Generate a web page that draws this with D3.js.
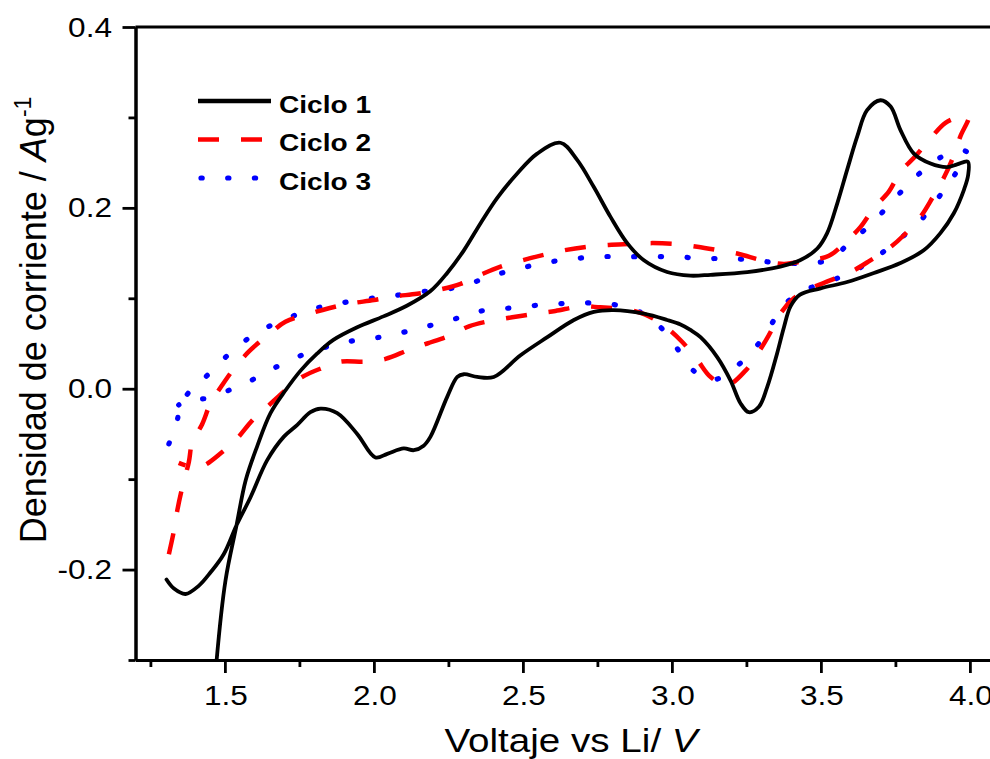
<!DOCTYPE html>
<html>
<head>
<meta charset="utf-8">
<script src="https://cdn.jsdelivr.net/npm/d3@7"></script>
<style>
  body { margin: 0; background: #fff; }
  text { font-family: "Liberation Sans", Arial, sans-serif; fill: #000; }
</style>
</head>
<body>
<div class="chart"></div>
<script>
// cyclic voltammetry, 3 cycles
var ciclo1V = [1.466, 1.472, 1.502, 1.539, 1.570, 1.608, 1.653, 1.703, 1.754, 1.810, 1.864, 1.944, 2.032, 2.112, 2.190,
  2.246, 2.302, 2.358, 2.414, 2.481, 2.548, 2.626, 2.682, 2.738, 2.794, 2.850, 2.906, 2.984, 3.062, 3.130,
  3.253, 3.364, 3.430, 3.488, 3.521, 3.555, 3.588, 3.622, 3.655, 3.700, 3.734, 3.767, 3.812, 3.868, 3.924,
  3.957, 3.993, 3.994, 3.980, 3.946, 3.901, 3.845, 3.767, 3.678, 3.588, 3.499, 3.430, 3.398, 3.376, 3.353,
  3.320, 3.292, 3.258, 3.230, 3.197, 3.152, 3.096, 3.062, 3.029, 2.984, 2.906, 2.805, 2.738, 2.671, 2.582,
  2.492, 2.402, 2.347, 2.302, 2.280, 2.246, 2.190, 2.167, 2.134, 2.100, 2.045, 2.005, 1.944, 1.877, 1.821,
  1.787, 1.743, 1.698, 1.642, 1.586, 1.539, 1.496, 1.452, 1.412, 1.368, 1.329, 1.304];
var ciclo1I = [-0.330, -0.301, -0.212, -0.151, -0.101, -0.064, -0.027, -0.002, 0.020, 0.039, 0.054, 0.068, 0.080, 0.092, 0.108,
  0.128, 0.153, 0.183, 0.211, 0.238, 0.260, 0.272, 0.253, 0.223, 0.190, 0.161, 0.142, 0.129, 0.125, 0.126,
  0.129, 0.135, 0.142, 0.155, 0.172, 0.205, 0.242, 0.279, 0.308, 0.319, 0.312, 0.286, 0.260, 0.249, 0.245,
  0.248, 0.251, 0.236, 0.220, 0.194, 0.172, 0.153, 0.139, 0.128, 0.118, 0.111, 0.104, 0.091, 0.068, 0.039,
  0.002, -0.020, -0.026, -0.016, 0.009, 0.035, 0.057, 0.065, 0.071, 0.076, 0.083, 0.087, 0.085, 0.076, 0.057,
  0.037, 0.013, 0.013, 0.016, 0.013, -0.009, -0.053, -0.063, -0.068, -0.066, -0.072, -0.076, -0.050, -0.027, -0.022,
  -0.026, -0.040, -0.053, -0.079, -0.120, -0.151, -0.183, -0.203, -0.218, -0.227, -0.221, -0.211];

var ciclo2V = [1.312, 1.329, 1.340, 1.357, 1.379, 1.390, 1.424, 1.452, 1.491, 1.530, 1.580, 1.636, 1.703, 1.765, 1.849,
  1.916, 2.000, 2.067, 2.145, 2.212, 2.291, 2.358, 2.425, 2.498, 2.570, 2.637, 2.716, 2.788, 2.861, 2.934,
  3.012, 3.085, 3.158, 3.225, 3.303, 3.376, 3.454, 3.527, 3.588, 3.633, 3.678, 3.728, 3.767, 3.817, 3.868,
  3.918, 3.960, 3.995, 3.968, 3.940, 3.912, 3.874, 3.834, 3.779, 3.735, 3.666, 3.611, 3.533, 3.465, 3.409,
  3.364, 3.325, 3.292, 3.247, 3.185, 3.130, 3.085, 3.034, 2.984, 2.911, 2.839, 2.760, 2.693, 2.609, 2.542,
  2.464, 2.391, 2.319, 2.257, 2.179, 2.117, 2.039, 1.972, 1.888, 1.827, 1.759, 1.709, 1.642, 1.592, 1.541,
  1.491, 1.412, 1.345];
var ciclo2I = [-0.183, -0.157, -0.135, -0.109, -0.081, -0.060, -0.039, -0.016, 0.004, 0.022, 0.041, 0.057, 0.074, 0.081, 0.089,
  0.094, 0.098, 0.102, 0.105, 0.109, 0.116, 0.126, 0.135, 0.142, 0.148, 0.153, 0.157, 0.159, 0.160, 0.161,
  0.160, 0.157, 0.153, 0.149, 0.142, 0.138, 0.142, 0.147, 0.164, 0.179, 0.200, 0.218, 0.240, 0.257, 0.277,
  0.294, 0.300, 0.301, 0.279, 0.253, 0.233, 0.211, 0.190, 0.170, 0.157, 0.142, 0.131, 0.120, 0.111, 0.100,
  0.083, 0.059, 0.041, 0.020, 0.004, 0.013, 0.032, 0.052, 0.067, 0.082, 0.088, 0.090, 0.091, 0.086, 0.083,
  0.079, 0.075, 0.069, 0.059, 0.050, 0.043, 0.033, 0.030, 0.030, 0.023, 0.013, 0.000, -0.020, -0.035, -0.055,
  -0.070, -0.087, -0.082];

var ciclo3V = [1.312, 1.340, 1.350, 1.390, 1.432, 1.496, 1.563, 1.636, 1.711, 1.793, 1.879, 1.966, 2.053, 2.143, 2.229,
  2.319, 2.397, 2.479, 2.568, 2.655, 2.745, 2.834, 2.924, 3.011, 3.103, 3.191, 3.277, 3.364, 3.454, 3.532,
  3.594, 3.661, 3.723, 3.781, 3.845, 3.921, 3.989, 3.946, 3.896, 3.840, 3.781, 3.700, 3.616, 3.538, 3.454,
  3.387, 3.331, 3.284, 3.225, 3.141, 3.076, 3.021, 2.965, 2.886, 2.805, 2.716, 2.626, 2.539, 2.449, 2.361,
  2.280, 2.190, 2.106, 2.020, 1.930, 1.849, 1.765, 1.678, 1.599, 1.519, 1.432, 1.385, 1.345];
var ciclo3I = [-0.061, -0.035, -0.018, 0.000, 0.012, 0.033, 0.052, 0.067, 0.078, 0.088, 0.094, 0.099, 0.102, 0.107, 0.109,
  0.116, 0.125, 0.132, 0.139, 0.143, 0.146, 0.146, 0.146, 0.146, 0.144, 0.144, 0.142, 0.139, 0.139, 0.143,
  0.161, 0.180, 0.201, 0.222, 0.242, 0.259, 0.262, 0.235, 0.212, 0.188, 0.170, 0.149, 0.131, 0.120, 0.110,
  0.096, 0.070, 0.047, 0.027, 0.010, 0.019, 0.043, 0.067, 0.086, 0.093, 0.095, 0.094, 0.092, 0.089, 0.086,
  0.078, 0.070, 0.063, 0.057, 0.053, 0.047, 0.038, 0.025, 0.011, -0.001, -0.011, -0.010, -0.018];

var xTicks = [1.5, 2.0, 2.5, 3.0, 3.5, 4.0];
var xMinor = [1.25, 1.75, 2.25, 2.75, 3.25, 3.75];
var yTicks = [-0.2, 0.0, 0.2, 0.4];
var yMinor = [-0.3, -0.1, 0.1, 0.3];
var seriesNames = ["Ciclo 1", "Ciclo 2", "Ciclo 3"];

var W = 990, H = 759;
var stretch = 1.17;

var x = d3.scaleLinear().domain([1.2, 4.1]).range([135.5, 999.7]);
var y = d3.scaleLinear().domain([-0.3, 0.4]).range([660, 27]);

// plain hyphen for negatives, like the original
var fmt = function(d) { return d3.format(".1f")(d).replace("\u2212", "-"); };

var svg = d3.select(".chart").append("svg")
    .attr("width", W).attr("height", H);

svg.append("defs").append("clipPath").attr("id", "plotclip")
  .append("rect")
    .attr("x", x(1.2)).attr("y", y(0.4))
    .attr("width", x(4.1) - x(1.2)).attr("height", y(-0.3) - y(0.4));

var series = [
  {name: seriesNames[0], v: ciclo1V, i: ciclo1I, color: "#000000", width: 3.8, dash: null, cap: "round"},
  {name: seriesNames[1], v: ciclo2V, i: ciclo2I, color: "#ff0000", width: 4.5, dash: "21,22", cap: "butt"},
  {name: seriesNames[2], v: ciclo3V, i: ciclo3I, color: "#0000ff", width: 5.2, dash: "1.2,25.5", cap: "round"}
];

var line = d3.line()
    .x(function(d) { return x(d[0]); })
    .y(function(d) { return y(d[1]); })
    .curve(d3.curveCatmullRom.alpha(0.5));

var curves = svg.append("g").attr("clip-path", "url(#plotclip)");

// draw cycle 3 first so black sits on top
series.slice().reverse().forEach(function(s) {
  var pts = s.v.map(function(v, k) { return [v, s.i[k]]; });
  curves.append("path")
    .attr("d", line(pts))
    .attr("fill", "none")
    .attr("stroke", s.color)
    .attr("stroke-width", s.width)
    .attr("stroke-linecap", s.cap)
    .attr("stroke-linejoin", "round")
    .attr("stroke-dasharray", s.dash);
});

// axes
function styleAxis(g) {
  g.selectAll("path.domain").attr("stroke", "#000").attr("stroke-width", 3);
  g.selectAll(".tick line").attr("stroke", "#000").attr("stroke-width", 2.8);
  g.selectAll(".tick text").remove();
}

svg.append("g").attr("transform", "translate(0," + y(-0.3) + ")")
  .call(d3.axisBottom(x).tickValues(xTicks).tickSize(13).tickSizeOuter(0))
  .call(styleAxis);
svg.append("g").attr("transform", "translate(0," + y(-0.3) + ")")
  .call(d3.axisBottom(x).tickValues(xMinor).tickSize(7).tickSizeOuter(0))
  .call(styleAxis);

svg.append("g").attr("transform", "translate(" + x(1.2) + ",0)")
  .call(d3.axisLeft(y).tickValues(yTicks).tickSize(13).tickSizeOuter(0))
  .call(styleAxis);
svg.append("g").attr("transform", "translate(" + x(1.2) + ",0)")
  .call(d3.axisLeft(y).tickValues(yMinor).tickSize(7).tickSizeOuter(0))
  .call(styleAxis);

// top frame line
svg.append("line")
  .attr("x1", x(1.2)).attr("x2", x(4.1))
  .attr("y1", y(0.4)).attr("y2", y(0.4))
  .attr("stroke", "#000").attr("stroke-width", 3);

// tick labels
svg.selectAll(".xlab").data(xTicks).enter().append("text")
  .attr("class", "xlab")
  .attr("transform", function(d) { return "translate(" + (x(d) + 1) + ",705) scale(" + stretch + ",1)"; })
  .attr("text-anchor", "middle")
  .attr("font-size", 27)
  .text(fmt);

svg.selectAll(".ylab").data(yTicks).enter().append("text")
  .attr("class", "ylab")
  .attr("transform", function(d) { return "translate(112," + (y(d) + 9.5) + ") scale(" + stretch + ",1)"; })
  .attr("text-anchor", "end")
  .attr("font-size", 27)
  .text(fmt);

// axis titles
var xt = svg.append("text")
  .attr("transform", "translate(571,752) scale(" + stretch + ",1)")
  .attr("text-anchor", "middle")
  .attr("font-size", 33);
xt.append("tspan").text("Voltaje vs Li/ ");
xt.append("tspan").attr("font-style", "italic").text("V");

var yt = svg.append("text")
  .attr("transform", "translate(46,320) scale(1.05,1) rotate(-90)")
  .attr("text-anchor", "middle")
  .attr("font-size", 36);
yt.append("tspan").text("Densidad de corriente / ");
yt.append("tspan").attr("font-style", "italic").text("A");
yt.append("tspan").text("g");
yt.append("tspan").attr("font-size", 23).attr("dy", -14).text("-1");

// legend
var legend = svg.append("g");
series.forEach(function(s, k) {
  var ly = 101 + k * 38.5;
  legend.append("line")
    .attr("x1", k == 2 ? 201 : 198).attr("x2", 271)
    .attr("y1", ly).attr("y2", ly)
    .attr("stroke", s.color)
    .attr("stroke-width", k == 0 ? 4.5 : s.width)
    .attr("stroke-linecap", k == 0 ? "butt" : s.cap)
    .attr("stroke-dasharray", s.dash);
  legend.append("text")
    .attr("transform", "translate(279," + (ly + 11.5) + ") scale(" + stretch + ",1)")
    .attr("font-size", 24)
    .attr("font-weight", "bold")
    .text(s.name);
});
</script>
</body>
</html>
